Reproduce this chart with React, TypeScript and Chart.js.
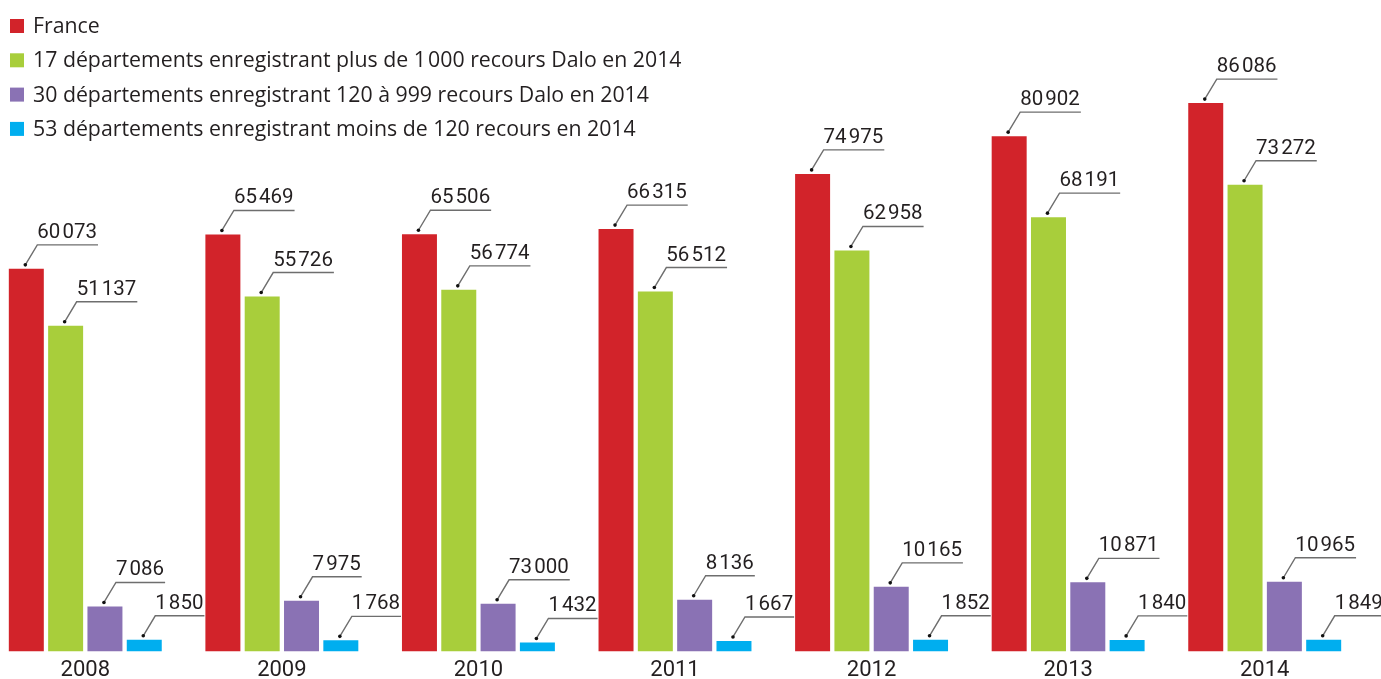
import React, { useEffect, useRef } from "react";
import { Chart, registerables } from "chart.js";

Chart.register(...registerables);

// ---- data ----
const years = ["2008", "2009", "2010", "2011", "2012", "2013", "2014"];
const seriesNames = [
  "France",
  "17 départements enregistrant plus de 1\u200A000 recours Dalo en 2014",
  "30 départements enregistrant 120 à 999 recours Dalo en 2014",
  "53 départements enregistrant moins de 120 recours en 2014",
];
const france = [60073, 65469, 65506, 66315, 74975, 80902, 86086];
const dep17 = [51137, 55726, 56774, 56512, 62958, 68191, 73272];
const dep30 = [7086, 7975, 7500, 8136, 10165, 10871, 10965];
const dep53 = [1850, 1768, 1432, 1667, 1852, 1840, 1849];
// labels as printed in the source (2010 purple label is printed "73 000")
const franceLabels = ["60\u200A073", "65\u200A469", "65\u200A506", "66\u200A315", "74\u200A975", "80\u200A902", "86\u200A086"];
const dep17Labels = ["51\u200A137", "55\u200A726", "56\u200A774", "56\u200A512", "62\u200A958", "68\u200A191", "73\u200A272"];
const dep30Labels = ["7\u200A086", "7\u200A975", "73\u200A000", "8\u200A136", "10\u200A165", "10\u200A871", "10\u200A965"];
const dep53Labels = ["1\u200A850", "1\u200A768", "1\u200A432", "1\u200A667", "1\u200A852", "1\u200A840", "1\u200A849"];
const colors = ["#D2232A", "#A8CE3B", "#8A72B4", "#00AEEF"];

const allLabels = [franceLabels, dep17Labels, dep30Labels, dep53Labels];

const OFFSET_X = 20; // canvas starts 20px left of the page edge
const FONT = "Roboto, 'Liberation Sans', sans-serif";
const LEGEND_FONT = "'Open Sans', Roboto, sans-serif";
const TEXT = "#231F20";

const leaderLabels = {
  id: "leaderLabels",
  afterDatasetsDraw(chart: any) {
    const ctx = chart.ctx;
    ctx.save();
    ctx.font = `20.5px ${FONT}`;
    ctx.textAlign = "left";
    ctx.textBaseline = "alphabetic";
    chart.data.datasets.forEach((ds: any, di: number) => {
      const meta = chart.getDatasetMeta(di);
      const texts = allLabels[di];
      meta.data.forEach((bar: any, i: number) => {
        const { x, y } = bar.getProps(["x", "y"], true);
        const px = x - 1;
        const py = y - 4;
        const cx = px + 12;
        const cy = py - 20;
        const t = texts[i];
        const w = ctx.measureText(t).width;
        ctx.strokeStyle = "#6E6E6E";
        ctx.lineWidth = 1.4;
        ctx.beginPath();
        ctx.moveTo(px, py);
        ctx.lineTo(cx, cy);
        ctx.lineTo(cx + w + 1, cy);
        ctx.stroke();
        ctx.fillStyle = "#111";
        ctx.beginPath();
        ctx.arc(px, py, 1.8, 0, Math.PI * 2);
        ctx.fill();
        ctx.fillStyle = TEXT;
        ctx.fillText(t, cx, cy - 7);
      });
    });
    ctx.restore();
  },
};

const topLegend = {
  id: "topLegend",
  afterDraw(chart: any) {
    const ctx = chart.ctx;
    ctx.save();
    ctx.font = `21.3px ${LEGEND_FONT}`;
    ctx.textBaseline = "middle";
    ctx.textAlign = "left";
    chart.data.datasets.forEach((ds: any, i: number) => {
      const yc = 26 + 34.3 * i;
      ctx.fillStyle = ds.backgroundColor;
      ctx.fillRect(10 + OFFSET_X, yc - 7, 14, 14);
      ctx.fillStyle = TEXT;
      ctx.fillText(ds.label, 33 + OFFSET_X, yc + 1);
    });
    ctx.restore();
  },
};

export default function App() {
  const ref = useRef<HTMLCanvasElement | null>(null);
  useEffect(() => {
    document.body.style.overflow = "hidden";
    const values = [france, dep17, dep30, dep53];
    const chart = new Chart(ref.current as HTMLCanvasElement, {
      type: "bar",
      data: {
        labels: years,
        datasets: values.map((v, i) => ({
          label: seriesNames[i],
          data: v,
          backgroundColor: colors[i],
          borderWidth: 0,
          barPercentage: 0.89,
          categoryPercentage: 0.8,
        })),
      },
      options: {
        responsive: false,
        animation: false,
        layout: { padding: { left: 7, right: 18, top: 0, bottom: 0 } },
        plugins: { legend: { display: false }, tooltip: { enabled: false } },
        scales: {
          x: {
            grid: { display: false, drawTicks: false },
            border: { display: false },
            ticks: { font: { family: FONT, size: 22 }, color: TEXT, padding: 6 },
          },
          y: { display: false, min: 0, max: 102270 },
        },
      },
      plugins: [leaderLabels, topLegend],
    });
    return () => chart.destroy();
  }, []);
  return (
    <div style={{ position: "absolute", left: -OFFSET_X, top: 0, width: 1401, height: 679, overflow: "hidden" }}>
      <canvas ref={ref} width={1401} height={690} style={{ display: "block", width: 1401, height: 690 }} />
    </div>
  );
}
